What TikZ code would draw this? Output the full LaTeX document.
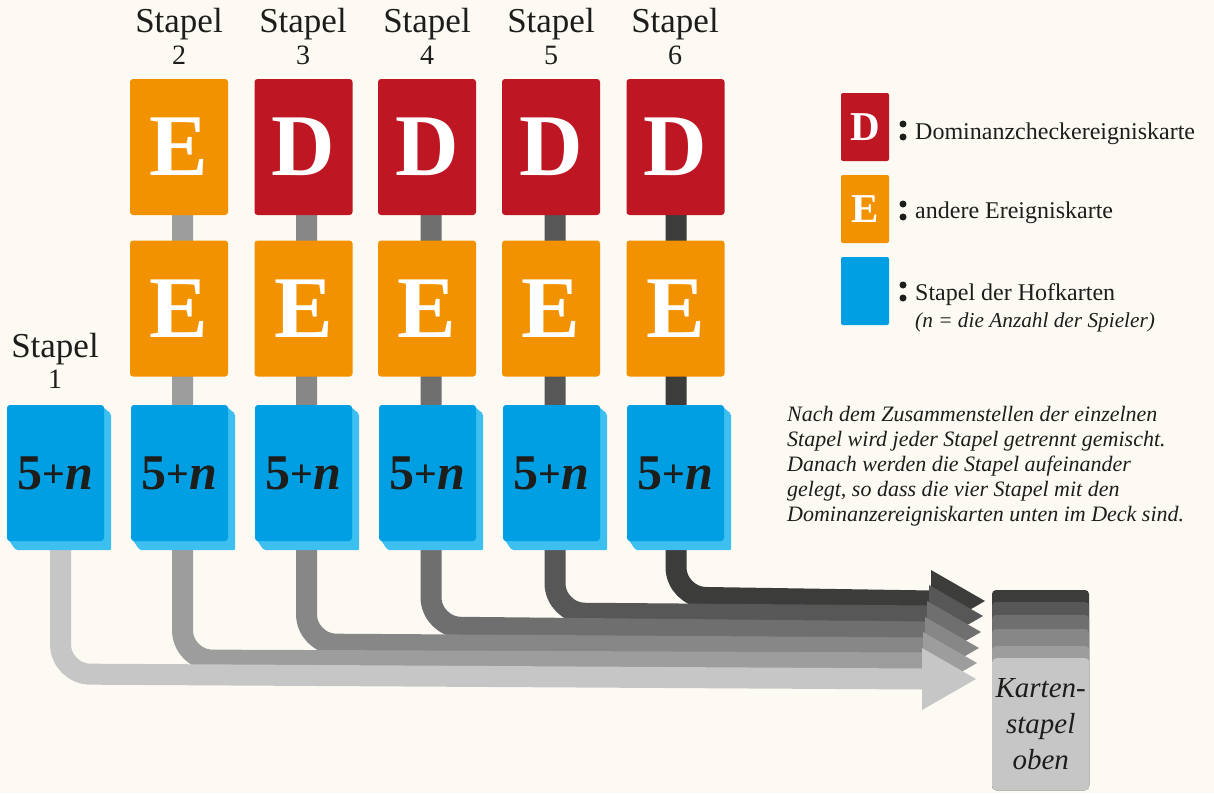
\documentclass[tikz,border=0pt]{standalone}
\usepackage{fontspec}
\setmainfont{Liberation Serif}
\usetikzlibrary{calc}
\definecolor{paper}{HTML}{FCFAF3}
\definecolor{cred}{HTML}{BE1622}
\definecolor{corange}{HTML}{F39200}
\definecolor{cblue}{HTML}{009FE3}
\definecolor{cblueL}{HTML}{3DBFF0}
\definecolor{ink}{HTML}{1D1D1B}
\definecolor{g1}{HTML}{C6C6C6}
\definecolor{g2}{HTML}{9D9D9D}
\definecolor{g3}{HTML}{878787}
\definecolor{g4}{HTML}{6F6F6F}
\definecolor{g5}{HTML}{575757}
\definecolor{g6}{HTML}{3C3C3B}
\pgfdeclarelayer{paperlayer}
\pgfdeclarelayer{bg}
\pgfsetlayers{paperlayer,bg,main}
\begin{document}
\begin{tikzpicture}[x=1pt,y=-1pt,
  card/.style={rectangle, rounded corners=3pt, minimum width=98pt, minimum height=136pt, inner sep=0pt, text=white, font=\fontsize{88}{88}\selectfont\bfseries},
  dcard/.style={card, fill=cred},
  ecard/.style={card, fill=corange},
  hof/.style={card, fill=cblue, minimum width=97pt, text=ink, font=\fontsize{50}{50}\selectfont\bfseries},
  lcard/.style={rectangle, rounded corners=2pt, minimum width=48pt, minimum height=68pt, inner sep=0pt, text=white, font=\fontsize{41}{41}\selectfont\bfseries},
  hdr/.style={anchor=base, inner sep=0pt, text=ink, font=\fontsize{35}{40}\selectfont},
  hdrnum/.style={anchor=base, inner sep=0pt, text=ink, font=\fontsize{28}{32}\selectfont},
  legtxt/.style={anchor=base west, inner sep=0pt, text=ink, font=\fontsize{24}{28}\selectfont},
  band/.style={line width=21pt, rounded corners=30pt},
  dot/.style={fill=ink}
]
\begin{pgfonlayer}{paperlayer}
  \fill[paper] (0,0) rectangle (1214,793);
\end{pgfonlayer}

% headers
\node[hdr] (h1a) at (55,357) {Stapel};
\node[hdrnum] (h1b) at (55,388) {1};
\foreach \i/\xx in {2/179,3/303,4/427,5/551,6/675}{
  \node[hdr] (h\i a) at (\xx,32) {Stapel};
  \node[hdrnum] (h\i b) at (\xx,64) {\i};
}

% top row
\node[ecard] (t2) at (179,147) {E};
\node[dcard] (t3) at (303.5,147) {D};
\node[dcard] (t4) at (427,147) {D};
\node[dcard] (t5) at (551,147) {D};
\node[dcard] (t6) at (675.5,147) {D};
% middle row
\node[ecard] (m2) at (179,308.5) {E};
\node[ecard] (m3) at (303.5,308.5) {E};
\node[ecard] (m4) at (427,308.5) {E};
\node[ecard] (m5) at (551,308.5) {E};
\node[ecard] (m6) at (675.5,308.5) {E};
% blue row
\newcommand{\fivn}{5\raisebox{2pt}{\fontsize{40}{40}\selectfont +}\textit{n}}
\node[hof] (b1) at (55.5,473) {\fivn};
\node[hof] (b2) at (179.5,473) {\fivn};
\node[hof] (b3) at (303.5,473) {\fivn};
\node[hof] (b4) at (427.5,473) {\fivn};
\node[hof] (b5) at (551.5,473) {\fivn};
\node[hof] (b6) at (675.5,473) {\fivn};

% connector coordinates
\coordinate (s1) at (60.5,480);  \coordinate (k1) at (60.5,674);  \coordinate (a1) at (922,679);
\coordinate (s2) at (182.5,200); \coordinate (k2) at (182.5,660); \coordinate (a2) at (923,663);
\coordinate (s3) at (306.5,200); \coordinate (k3) at (306.5,644); \coordinate (a3) at (925,648);
\coordinate (s4) at (431,200);   \coordinate (k4) at (431,627);   \coordinate (a4) at (927,632);
\coordinate (s5) at (555,200);   \coordinate (k5) at (555,613);   \coordinate (a5) at (929,616);
\coordinate (s6) at (676,200);   \coordinate (k6) at (676,597);   \coordinate (a6) at (931,601);

\begin{pgfonlayer}{bg}
  \foreach \i in {6,5,4,3,2,1}{
    \draw[band, draw=g\i] (s\i) -- (k\i) -- ($(a\i)+(2,0)$);
    \fill[g\i] ($(a\i)+(0,-31)$) -- ($(a\i)+(54,0)$) -- ($(a\i)+(0,31)$) -- cycle;
  }
  \foreach \bn in {b1,b2,b3,b4,b5,b6}{
    \fill[cblueL, rounded corners=2pt] ($(\bn.north east)+(-4,0)$) -- ($(\bn.north east)+(7,9)$) -- ($(\bn.south east)+(7,9)$) -- ($(\bn.south west)+(9,9)$) -- ($(\bn.south west)+(0,-4)$) -- cycle;
  }
\end{pgfonlayer}

% final deck
\fill[g6, rounded corners=4pt] (992,590) rectangle (1089,790);
\fill[g5, rounded corners=4pt] (992,602) rectangle (1089,790);
\fill[g4, rounded corners=4pt] (992,615) rectangle (1089,790);
\fill[g3, rounded corners=4pt] (992,629) rectangle (1089,790);
\fill[g2, rounded corners=4pt] (992,646) rectangle (1089,790);
\node[rectangle, fill=g1, rounded corners=4pt, minimum width=97pt, minimum height=132pt, inner sep=0pt, anchor=north west, align=center, text=ink, font=\fontsize{29}{36}\selectfont\itshape] (deck) at (992,658) {Karten-\\stapel\\oben};

% legend
\node[lcard, fill=cred] (ld) at (865,127) {D};
\node[lcard, fill=corange] (le) at (865,209) {E};
\node[lcard, fill=cblue] (lb) at (865,291) {};
\fill[dot] (903,124) circle (3.5) (903,137) circle (3.5);
\fill[dot] (903,204) circle (3.5) (903,217) circle (3.5);
\fill[dot] (903,285) circle (3.5) (903,298) circle (3.5);
\node[legtxt] (ltd) at (915,139) {Dominanzcheckereigniskarte};
\node[legtxt] (lte) at (915,218) {andere Ereigniskarte};
\node[legtxt] (ltb) at (915,300) {Stapel der Hofkarten};
\node[legtxt, font=\fontsize{21.3}{24}\selectfont\itshape] (ltn) at (915,327) {(n = die Anzahl der Spieler)};

% paragraph
\node[anchor=north west, inner sep=0pt, align=left, text=ink, font=\fontsize{22}{25}\selectfont\itshape] (para) at (787,406) {Nach dem Zusammenstellen der einzelnen\\Stapel wird jeder Stapel getrennt gemischt.\\Danach werden die Stapel aufeinander\\gelegt, so dass die vier Stapel mit den\\Dominanzereigniskarten unten im Deck sind.};
\end{tikzpicture}
\end{document}
